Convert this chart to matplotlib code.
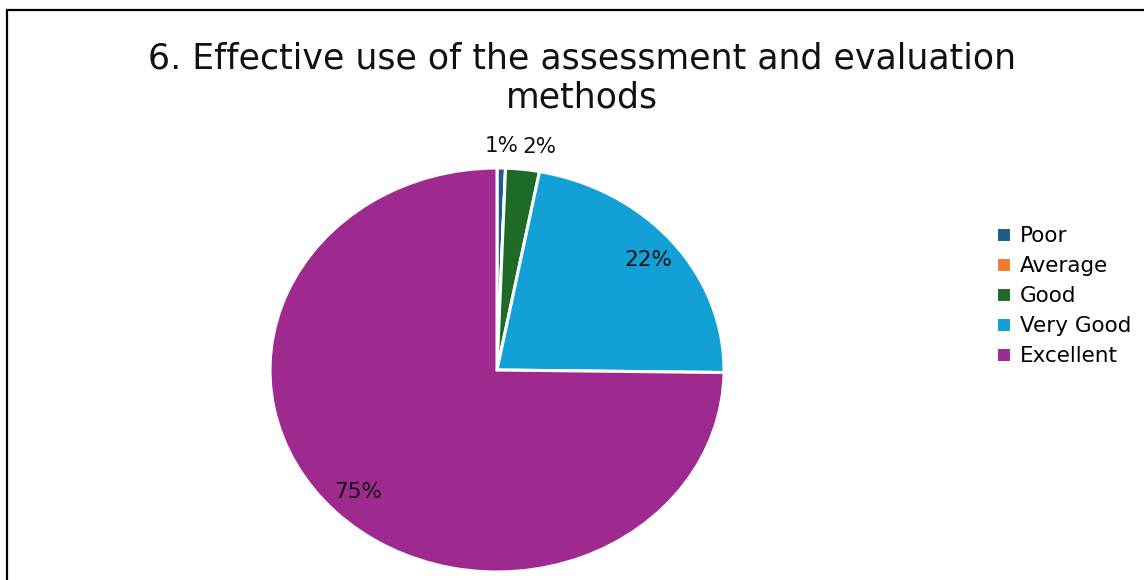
import matplotlib
matplotlib.use("Agg")
import matplotlib.pyplot as plt
from matplotlib.patches import Rectangle
import numpy as np

categories = ["Poor", "Average", "Good", "Very Good", "Excellent"]
values = [0.6, 0.0, 2.4, 22.2, 74.8]
colors = ["#1F5C87", "#ED7D31", "#1D6B27", "#12A0D7", "#9E2A8F"]
title = "6. Effective use of the assessment and evaluation\nmethods"

fig = plt.figure(figsize=(11.44, 5.8), dpi=100)
plt.rcParams['font.family'] = ['DejaVu Sans']

# outer border
fig.patches.append(Rectangle((7/1144, -0.1), 1.2, (570/580) + 0.1, transform=fig.transFigure,
                             fill=False, edgecolor="black", linewidth=1.6, zorder=0))

ax = fig.add_axes([270/1144, 8/580, 454/1144, 404/580])
wedges, _ = ax.pie(values, colors=colors, startangle=90, counterclock=False,
                   wedgeprops=dict(edgecolor="white", linewidth=2.2))
ax.set_aspect('auto')
ax.set_xlim(-1, 1)
ax.set_ylim(-1, 1)

total = sum(values)
for w, v in zip(wedges, values):
    if v <= 0:
        continue
    pct = v / total * 100
    ang = np.deg2rad((w.theta1 + w.theta2) / 2)
    r = 0.86 if pct >= 5 else 1.11
    x, y = r * np.cos(ang), r * np.sin(ang)
    off = (0, 0)
    if pct < 5 and np.cos(ang) > 0.05:
        off = (10, 0)
    ax.annotate(f"{pct:.0f}%", (x, y), xytext=off, textcoords="offset points",
                ha="center", va="center", fontsize=15.5, color="#111111",
                annotation_clip=False)

fig.text(582/1144, 1 - 78/580, title, ha="center", va="center", fontsize=25,
         color="#111111", linespacing=1.15)

leg = fig.legend(wedges, categories, loc="upper left", bbox_to_anchor=(996/1144, 1 - 226/580),
                 frameon=False, fontsize=15.5, handlelength=0.7, handleheight=0.7,
                 handletextpad=0.4, labelspacing=0.47, borderpad=0, borderaxespad=0)

fig.savefig("out.png", dpi=100)
